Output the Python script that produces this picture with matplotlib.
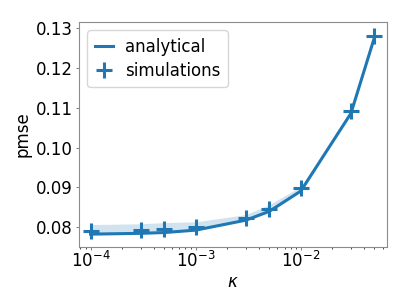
import matplotlib
matplotlib.use("Agg")
import matplotlib.pyplot as plt
import numpy as np

kappa = [1e-4, 3e-4, 5e-4, 1e-3, 3e-3, 5e-3, 1e-2, 3e-2, 5e-2]
analytical = [0.0783, 0.0785, 0.0787, 0.0793, 0.0818, 0.0840, 0.0891, 0.1086, 0.1275]
band_upper = [0.0807, 0.0809, 0.0812, 0.0814, 0.0832, 0.0857, 0.0902, 0.1092, 0.1280]
simulations = [0.0792, 0.0794, 0.0797, 0.0800, 0.0823, 0.0846, 0.0898, 0.1092, 0.1280]

plt.rcParams['font.family'] = ['DejaVu Sans']
fig = plt.figure(figsize=(4.09, 3.07), dpi=100)
ax = fig.add_axes([79/409, 1-246.5/307, (387-79)/409, (246.5-22)/307])

c = '#1f77b4'
ax.fill_between(kappa, analytical, band_upper, color=c, alpha=0.2, linewidth=0)
ax.plot(kappa, analytical, color=c, lw=2.2, label='analytical')
ax.plot(kappa, simulations, linestyle='none', marker='+', ms=12, mew=2.2, color=c, label='simulations')

ax.set_xscale('log')
ax.set_xlim(10**-4.11, 10**-1.18)
ax.set_ylim(0.0752, 0.1315)
ax.set_yticks([0.08, 0.09, 0.10, 0.11, 0.12, 0.13])
ax.set_yticklabels(['0.08', '0.09', '0.10', '0.11', '0.12', '0.13'])
ax.tick_params(labelsize=12, width=0.6, color='0.4')
ax.tick_params(which='major', length=2.3)
ax.tick_params(which='minor', length=1.4, width=0.5)
ax.tick_params(axis='x', which='both', pad=1.0)
ax.tick_params(axis='y', which='both', pad=2.0)
ax.set_xlabel(r'$\kappa$', fontsize=12, labelpad=1)
ax.set_ylabel('pmse', fontsize=12, labelpad=3.5)
for s in ax.spines.values():
    s.set_color('0.55')
    s.set_linewidth(0.8)
ax.legend(loc='upper left', fontsize=12, handlelength=1.1, handletextpad=0.7, borderpad=0.45, labelspacing=0.35)

fig.savefig('out.png', dpi=100)
